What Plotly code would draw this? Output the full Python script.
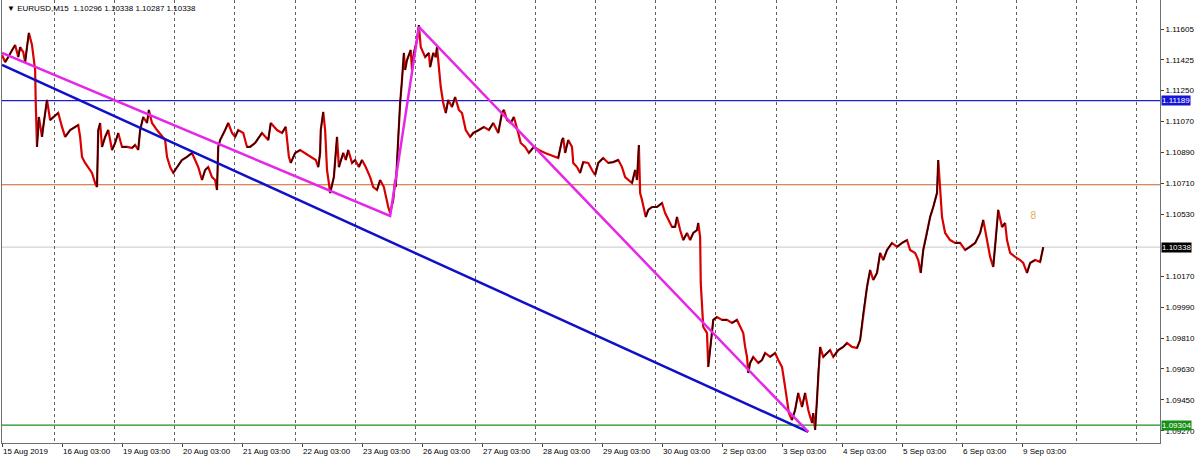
import plotly.graph_objects as go

# ---------------- data ----------------
# x = M15 bar index from the first bar (15 Aug 2019 03:00), y = price
bar_index = [
    0, 5, 10, 16, 21, 26, 29, 34, 37, 40, 43, 48, 50, 53, 54, 56, 59, 64, 66, 72, 77, 82, 90, 96,
    101, 109, 117, 122, 125, 128, 133, 138, 144, 149, 152, 154, 157, 160, 165, 170, 176, 181, 186,
    192, 200, 208, 213, 218, 221, 226, 232, 235, 240, 248, 256, 261, 264, 269, 274, 280, 288, 296,
    304, 309, 314, 320, 325, 330, 336, 341, 344, 346, 349, 357, 362, 368, 373, 378, 386, 392,
    397, 405, 416, 426, 430, 440, 448, 454, 456, 459, 462, 469, 477, 485, 494, 502, 506, 509, 510,
    514, 517, 520, 523, 525, 531, 536, 539, 546, 550, 554, 560, 565, 571, 576, 582, 589, 594, 600,
    605, 611, 618, 621, 626, 629, 630, 634, 637, 640, 643, 645, 648, 654, 656, 659, 664, 667, 670,
    677, 683, 685, 690, 694, 696, 699, 702, 706, 710, 714, 720, 725, 731, 736, 742, 749, 754, 763,
    771, 779, 786, 794, 800, 803, 808, 814, 819, 826, 830, 837, 843, 851, 859, 869, 877, 885,
    890, 896, 898, 901, 906, 912, 914, 920, 925, 930, 938, 944, 949, 954, 962, 970, 978, 986, 992,
    997, 1002, 1008, 1013, 1016, 1019, 1021, 1024, 1026, 1030, 1034, 1040, 1048, 1056, 1061, 1066,
    1072, 1077, 1080, 1085, 1090, 1096, 1101, 1106, 1112, 1114, 1117, 1118, 1120, 1122, 1125, 1128,
    1130, 1133, 1136, 1138, 1144, 1152, 1160, 1168, 1176, 1181, 1186, 1189, 1192, 1194, 1197, 1202,
    1210, 1216, 1221, 1229, 1237, 1242, 1248, 1253, 1256, 1259, 1264, 1269, 1274, 1280, 1285, 1290,
    1296, 1298, 1301, 1304, 1306, 1309, 1314, 1320, 1325, 1330, 1338, 1346, 1352, 1360, 1368, 1373,
    1378, 1384, 1389, 1394, 1400, 1405, 1410, 1416, 1424, 1432, 1440, 1448, 1453, 1461, 1466, 1470,
    1474, 1480, 1485, 1490, 1496, 1498, 1501, 1504, 1509, 1517, 1525, 1533, 1541, 1549, 1557, 1565,
    1570, 1576, 1581, 1586, 1590, 1594, 1600, 1605, 1608, 1613, 1621, 1629, 1634, 1640, 1645, 1653,
    1661, 1666,
]
close = [
    1.11454, 1.11413, 1.11442, 1.11483, 1.11512, 1.11442, 1.11500, 1.11471, 1.11413, 1.11500,
    1.11582, 1.11512, 1.11442, 1.11367, 1.11175, 1.10920, 1.11094, 1.10978, 1.11036, 1.11193,
    1.11076, 1.11094, 1.11117, 1.11036, 1.10978, 1.11018, 1.11036, 1.11047, 1.10978, 1.10862,
    1.10827, 1.10803, 1.10769, 1.10710, 1.10687, 1.11018, 1.11059, 1.10920, 1.10978, 1.11018,
    1.10902, 1.10943, 1.11001, 1.10920, 1.10920, 1.10914, 1.10931, 1.10902, 1.11018, 1.11094,
    1.11059, 1.11135, 1.11059, 1.11018, 1.10978, 1.10960, 1.10862, 1.10803, 1.10769, 1.10803,
    1.10844, 1.10862, 1.10885, 1.10844, 1.10803, 1.10728, 1.10786, 1.10803, 1.10745, 1.10728,
    1.10670, 1.10920, 1.10960, 1.11018, 1.11059, 1.11001, 1.10978, 1.11018, 1.11001, 1.10920,
    1.10920, 1.10943, 1.11001, 1.10960, 1.11059, 1.11018, 1.11001, 1.11036, 1.10960, 1.10862,
    1.10827, 1.10885, 1.10902, 1.10885, 1.10862, 1.10844, 1.10803, 1.10885, 1.11018, 1.11123,
    1.11018, 1.10786, 1.10710, 1.10652, 1.10745, 1.10978, 1.10803, 1.10885, 1.10844, 1.10902,
    1.10827, 1.10844, 1.10803, 1.10844, 1.10803, 1.10745, 1.10687, 1.10670, 1.10728, 1.10687,
    1.10571, 1.10536, 1.10612, 1.10728, 1.10687, 1.10978, 1.11175, 1.11309, 1.11466, 1.11367,
    1.11425, 1.11483, 1.11367, 1.11466, 1.11541, 1.11628, 1.11500, 1.11442, 1.11466, 1.11384,
    1.11466, 1.11442, 1.11500, 1.11384, 1.11268, 1.11175, 1.11117, 1.11193, 1.11152, 1.11210,
    1.11135, 1.11117, 1.11018, 1.10978, 1.11001, 1.11018, 1.11036, 1.11018, 1.11059, 1.11001,
    1.11117, 1.11135, 1.11076, 1.11059, 1.11094, 1.11001, 1.10943, 1.10920, 1.10885, 1.10920,
    1.10902, 1.10885, 1.10873, 1.10862,
    1.10856, 1.10960, 1.10972, 1.10885, 1.10960, 1.10920, 1.10827, 1.10803, 1.10769, 1.10832,
    1.10827, 1.10786, 1.10757, 1.10827, 1.10856, 1.10827, 1.10832, 1.10844, 1.10803, 1.10745,
    1.10728, 1.10710, 1.10786, 1.10728, 1.10931, 1.10652, 1.10612, 1.10571, 1.10513, 1.10554,
    1.10571, 1.10571, 1.10594, 1.10536, 1.10496, 1.10455, 1.10455, 1.10513, 1.10437, 1.10379,
    1.10420, 1.10379, 1.10420, 1.10437, 1.10478, 1.10397, 1.10130, 1.09955, 1.09874, 1.09857,
    1.09839, 1.09642, 1.09740, 1.09839, 1.09915, 1.09932, 1.09915, 1.09915, 1.09897, 1.09915,
    1.09874, 1.09839, 1.09758, 1.09700, 1.09607, 1.09665, 1.09700, 1.09665, 1.09682, 1.09723,
    1.09700, 1.09723, 1.09682, 1.09642, 1.09525, 1.09450, 1.09374, 1.09334, 1.09392, 1.09491,
    1.09409, 1.09491, 1.09392, 1.09316, 1.09374, 1.09276, 1.09450, 1.09607, 1.09758, 1.09700,
    1.09723, 1.09740, 1.09700, 1.09740, 1.09758, 1.09781, 1.09758, 1.09752, 1.09798, 1.09955,
    1.10106, 1.10205, 1.10147, 1.10188, 1.10304, 1.10263, 1.10321, 1.10362, 1.10339, 1.10362,
    1.10379, 1.10321, 1.10304, 1.10263, 1.10188, 1.10321, 1.10420, 1.10513, 1.10571, 1.10652,
    1.10844, 1.10670, 1.10513, 1.10420, 1.10379, 1.10362, 1.10362, 1.10321, 1.10339, 1.10362,
    1.10420, 1.10496, 1.10379, 1.10281, 1.10223, 1.10379, 1.10554, 1.10455, 1.10478, 1.10379,
    1.10304, 1.10281, 1.10263, 1.10246, 1.10188, 1.10246, 1.10263, 1.10252, 1.10338,
]

# time axis labels (one per trading day)
day_labels = ["15 Aug 2019", "16 Aug 03:00", "19 Aug 03:00", "20 Aug 03:00", "21 Aug 03:00",
              "22 Aug 03:00", "23 Aug 03:00", "26 Aug 03:00", "27 Aug 03:00", "28 Aug 03:00",
              "29 Aug 03:00", "30 Aug 03:00", "2 Sep 03:00", "3 Sep 03:00", "4 Sep 03:00",
              "5 Sep 03:00", "6 Sep 03:00", "9 Sep 03:00"]
bars_per_day = 96

# price scale labels
price_ticks = [1.11605, 1.11425, 1.11250, 1.11070, 1.10890, 1.10710, 1.10530,
               1.10170, 1.09990, 1.09810, 1.09630, 1.09450, 1.09270]

# horizontal levels
level_prices = [1.11189, 1.10700, 1.10338, 1.09304]
level_colors = ["#1d1dd6", "#c8602a", "#c8c8c8", "#1e8c1e"]
level_widths = [1.3, 1.1, 1.0, 1.4]

# labelled levels on the price scale
tag_prices = [1.11189, 1.10338, 1.09304]
tag_colors = ["#1414d8", "#000000", "#179017"]

# trend lines
blue_trend_bars = [0, 1290]
blue_trend_prices = [1.11396, 1.09264]
magenta_trend_bars = [0, 621, 667, 1290]
magenta_trend_prices = [1.11466, 1.10519, 1.11617, 1.09264]

# arrow object
arrow_bar = [1650]
arrow_price = [1.10513]

header = "▼ EURUSD,M15  1.10296 1.10338 1.10287 1.10338"

# ---------------- figure ----------------
FONT = "Liberation Sans"
x_range = [0, 1852.8]
y_range = [1.09200, 1.117735]

fig = go.Figure()

# horizontal levels
for p, c, w in zip(level_prices, level_colors, level_widths):
    fig.add_shape(type="line", xref="paper", x0=0, x1=1, yref="y", y0=p, y1=p,
                  line=dict(color=c, width=w), layer="below")

# price line: red full path, black rising segments
fig.add_trace(go.Scatter(x=bar_index, y=close, mode="lines",
                         line=dict(color="#d80000", width=2.2), hoverinfo="skip"))
up_x, up_y = [], []
for i in range(1, len(close)):
    if close[i] >= close[i - 1]:
        up_x += [bar_index[i - 1], bar_index[i], None]
        up_y += [close[i - 1], close[i], None]
fig.add_trace(go.Scatter(x=up_x, y=up_y, mode="lines",
                         line=dict(color="#1a0000", width=1.4), hoverinfo="skip"))

# trend lines
fig.add_trace(go.Scatter(x=blue_trend_bars, y=blue_trend_prices, mode="lines",
                         line=dict(color="#1010c8", width=2.5), hoverinfo="skip"))
fig.add_trace(go.Scatter(x=magenta_trend_bars, y=magenta_trend_prices, mode="lines",
                         line=dict(color="#e628e6", width=2.5), hoverinfo="skip"))

# arrow symbol
fig.add_trace(go.Scatter(x=arrow_bar, y=arrow_price, mode="text", text=["8"],
                         textfont=dict(family=FONT, size=10, color="#e0aa5a"),
                         hoverinfo="skip"))

# price tags on the right scale
for p, c in zip(tag_prices, tag_colors):
    fig.add_annotation(xref="paper", x=1.0, xanchor="left", xshift=1, yref="y", y=p,
                       text=f"{p:.5f}", showarrow=False, bgcolor=c, borderpad=0,
                       font=dict(family=FONT, size=8, color="white"))

# header
fig.add_annotation(xref="paper", yref="paper", x=0, y=1, xanchor="left", yanchor="top",
                   xshift=3, yshift=-2, text=header, showarrow=False,
                   font=dict(family=FONT, size=8, color="#000000"))

fig.update_layout(
    width=1200, height=458,
    margin=dict(l=2, r=40, t=0, b=15),
    paper_bgcolor="white", plot_bgcolor="white",
    showlegend=False,
    font=dict(family=FONT, size=8, color="black"),
    xaxis=dict(
        range=x_range, showgrid=False, zeroline=False,
        tickmode="array",
        tickvals=[bars_per_day * i for i in range(len(day_labels))],
        ticktext=day_labels,
        ticks="outside", ticklen=3, tickcolor="#404040",
        ticklabelposition="outside right",
        tickfont=dict(family=FONT, size=8, color="black"),
        showline=True, linecolor="#707070", linewidth=1, mirror=True,
        minor=dict(tickmode="linear", tick0=84, dtick=96.2, showgrid=True,
                   gridcolor="#606060", griddash="dot", gridwidth=1, ticks=""),
    ),
    yaxis=dict(
        range=y_range, side="right", showgrid=False, zeroline=False,
        tickmode="array", tickvals=price_ticks,
        ticktext=[f"{v:.5f}" for v in price_ticks],
        ticks="outside", ticklen=3, tickcolor="#404040",
        tickfont=dict(family=FONT, size=8, color="black"),
        showline=True, linecolor="#707070", linewidth=1, mirror=True,
    ),
)

fig.write_html("out.html",
               config={"displayModeBar": False},
               post_script="document.body.style.margin='0';document.body.style.overflow='hidden';")
